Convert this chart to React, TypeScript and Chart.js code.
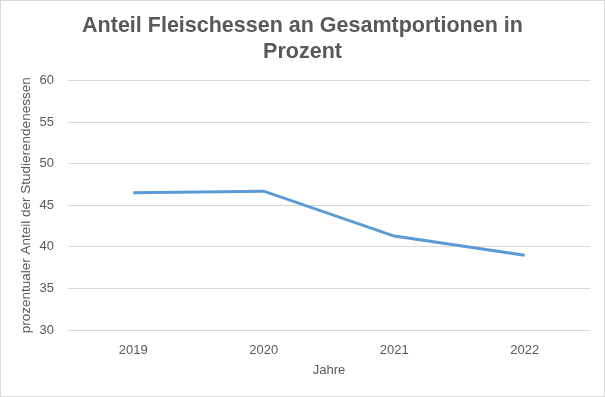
import React, { useEffect, useRef } from "react";
import { Chart, registerables } from "chart.js";

Chart.register(...registerables);

const years = ["2019", "2020", "2021", "2022"];
const meatShare = [46.5, 46.7, 41.3, 39.0];
const titleLines = ["Anteil Fleischessen an Gesamtportionen in", "Prozent"];
const xTitle = "Jahre";
const yTitle = "prozentualer Anteil der Studierendenessen";

const FONT = "'Liberation Sans', Arial, sans-serif";

export default function App() {
  const ref = useRef<HTMLCanvasElement>(null);
  useEffect(() => {
    document.body.style.margin = "0";
    const ctx = ref.current!;
    const chart = new Chart(ctx, {
      type: "line",
      data: {
        labels: years,
        datasets: [
          {
            data: meatShare,
            borderColor: "#5b9bd5",
            borderWidth: 3,
            pointRadius: 0,
            tension: 0,
            fill: false,
          },
        ],
      },
      options: {
        animation: false,
        responsive: false,
        layout: { padding: { left: 14, right: 14, top: 0, bottom: 0 } },
        plugins: {
          legend: { display: false },
          tooltip: { enabled: false },
          title: {
            display: true,
            text: titleLines,
            color: "#595959",
            font: { family: FONT, size: 21.5, weight: "bold", lineHeight: 1.2 },
            padding: { top: 12, bottom: 16 },
          },
        },
        scales: {
          x: {
            offset: true,
            grid: { display: false, drawTicks: false },
            border: { display: false },
            ticks: {
              color: "#595959",
              font: { family: FONT, size: 13 },
              padding: 13,
            },
            title: {
              display: true,
              text: xTitle,
              color: "#595959",
              font: { family: FONT, size: 13 },
              padding: { top: 4, bottom: 18 },
            },
            afterFit: (s: any) => {
              s.height = 66;
            },
          },
          y: {
            min: 30,
            max: 60,
            ticks: {
              stepSize: 5,
              color: "#595959",
              font: { family: FONT, size: 13 },
              padding: 14,
            },
            grid: { color: "#d9d9d9", lineWidth: 1, drawTicks: false },
            border: { display: false },
            title: {
              display: true,
              text: yTitle,
              color: "#595959",
              font: { family: FONT, size: 13.5 },
              padding: { top: 3, bottom: 0 },
            },
            afterFit: (s: any) => {
              s.width = 53;
            },
          },
        },
      },
    });
    return () => chart.destroy();
  }, []);
  return (
    <div
      style={{
        width: 605,
        height: 397,
        boxSizing: "border-box",
        border: "1px solid #d9d9d9",
        background: "#fff",
      }}
    >
      <canvas ref={ref} width={603} height={395} style={{ display: "block" }} />
    </div>
  );
}
